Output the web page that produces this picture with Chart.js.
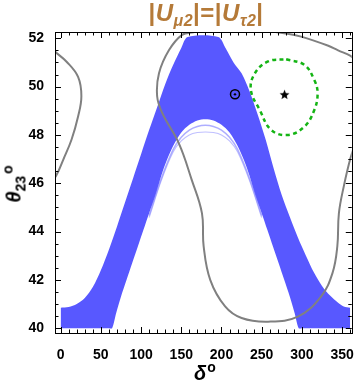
<!DOCTYPE html>
<html>
<head>
<meta charset="utf-8">
<script src="https://cdn.jsdelivr.net/npm/chart.js@4.4.1/dist/chart.umd.min.js"></script>
<style>
  body { margin: 0; background: #fff; }
  #wrap { position: relative; width: 360px; height: 382px; }
  #plot { position: absolute; left: 0; top: 0; }
  .lbl { position: absolute; font-family: "Liberation Sans", Arial, sans-serif; font-weight: bold; white-space: nowrap; }
  #title { left: 206px; top: -1px; transform: translateX(-50%); font-size: 24px; letter-spacing: 0.5px; color: #b57a38; }
  #title sub { font-size: 16px; vertical-align: -5px; font-style: italic; }
  #ylab { left: 14px; top: 184px; transform: translate(-50%, -50%) rotate(-90deg); font-size: 20px; }
  #ylab sub { font-size: 14px; vertical-align: -5px; }
  #ylab sup { font-size: 14px; font-style: normal; vertical-align: 8px; margin-left: 2px; }
  #xlab { left: 205px; top: 372px; transform: translate(-50%, -50%); font-size: 20px; }
  #xlab sup { font-size: 14px; font-style: normal; vertical-align: 8px; margin-left: 1px; }
</style>
</head>
<body>
<div id="wrap">
  <canvas id="plot" width="360" height="382"></canvas>
  <div class="lbl" id="title">|<i>U</i><sub>μ2</sub>|=|<i>U</i><sub>τ2</sub>|</div>
  <div class="lbl" id="ylab"><i>θ</i><sub>23</sub><sup>o</sup></div>
  <div class="lbl" id="xlab"><i>δ</i><sup>o</sup></div>
</div>
<script>
// axis ticks
const xTicks = [0, 50, 100, 150, 200, 250, 300, 350];
const yTicks = [40, 42, 44, 46, 48, 50, 52];

// allowed band (blue): upper edge
const outerDelta = [0, 10, 20, 30, 40, 50, 60, 70, 80, 90, 100, 110, 120, 130, 140, 150, 158, 196, 205, 215, 225, 235, 245, 255, 265, 275, 285, 295, 305, 315, 325, 335, 345, 352, 360];
const outerTheta = [40.85, 40.88, 41.0, 41.25, 41.7, 42.4, 43.25, 44.2, 45.2, 46.2, 47.2, 48.2, 49.15, 50.1, 50.9, 51.6, 52.05, 52.05, 51.6, 51.0, 50.55, 49.8, 48.85, 47.8, 46.6, 45.5, 44.6, 43.75, 43.0, 42.3, 41.75, 41.35, 41.05, 40.9, 40.85];

// allowed band: lower edge
const innerDelta = [0, 30, 60, 64, 69, 75, 82, 89, 96, 103, 110, 118, 125, 132, 140, 150, 160, 170, 180, 190, 200, 210, 220, 228, 235, 242, 250, 257, 264, 271, 278, 285, 291, 296, 300, 330, 360];
const innerTheta = [40, 40, 40, 40, 40.62, 41.3, 42.0, 42.7, 43.38, 44.07, 44.76, 45.5, 46.3, 46.95, 47.55, 48.1, 48.42, 48.6, 48.65, 48.6, 48.42, 48.1, 47.55, 46.95, 46.3, 45.5, 44.76, 44.07, 43.38, 42.7, 42.0, 41.3, 40.62, 40, 40, 40, 40];

// faint edge lines under the band
const faintDelta = [110, 125, 140, 150, 160, 170, 180, 190, 200, 210, 220, 235, 250];
const faintThetaA = [44.66, 46.18, 47.4, 47.9, 48.2, 48.35, 48.4, 48.35, 48.2, 47.9, 47.4, 46.18, 44.66];
const faintThetaB = [44.58, 46.1, 47.3, 47.75, 48.0, 48.1, 48.12, 48.1, 48.0, 47.75, 47.3, 46.1, 44.58];

// grey contour, main piece
const greyDelta = [366, 360.5, 345, 332, 299, 280, 254, 220, 190, 165, 151, 134.6, 122.3, 120, 126.4, 147, 163, 175.7, 177.8, 186, 204.5, 225, 258, 295, 323.5, 338, 344, 346, 352, 360.5, 368];
const greyTheta = [51.1, 51.27, 51.5, 51.7, 52.07, 52.2, 52.3, 52.36, 52.36, 52.25, 52.14, 51.5, 50.55, 49.6, 48.9, 47.65, 46.14, 44.76, 43.4, 42.0, 40.9, 40.42, 40.27, 40.48, 41.3, 42.28, 43.38, 44.76, 45.86, 47.05, 47.8];

// grey contour, left piece
const greyLeftDelta = [-14, -5, 3.2, 13.5, 21.7, 25.8, 21.7, 7.4, -7, -14];
const greyLeftTheta = [45.9, 46.35, 46.97, 47.8, 48.76, 49.6, 50.4, 51.03, 51.45, 51.7];

// green dashed region
const greenDelta = [280.4, 303, 315.4, 319.5, 315.4, 303, 282.5, 262, 247.6, 236.5, 241.5, 257.8, 280.4];
const greenTheta = [51.13, 50.9, 50.27, 49.72, 49.03, 48.34, 48.0, 48.2, 49.03, 49.86, 50.55, 51.04, 51.13];

// markers
const bestFit = [{ x: 216.8, y: 49.68 }];
const starPoint = [{ x: 278.4, y: 49.68 }];

const pts = (xs, ys) => xs.map((x, i) => ({ x: x, y: ys[i] }));

// small filled five-point star used as point style
const starImg = document.createElement("canvas");
starImg.width = 11;
starImg.height = 11;
(() => {
  const c = starImg.getContext("2d");
  c.fillStyle = "#000";
  c.beginPath();
  for (let i = 0; i < 10; i++) {
    const r = i % 2 === 0 ? 5.2 : 2.3;
    const ang = -Math.PI / 2 + (i * Math.PI) / 5;
    const px = 5.5 + r * Math.cos(ang);
    const py = 6 + r * Math.sin(ang);
    if (i === 0) c.moveTo(px, py); else c.lineTo(px, py);
  }
  c.closePath();
  c.fill();
})();

const frameTicks = {
  id: "frameTicks",
  afterDatasetsDraw(chart) {
    const { ctx, chartArea: a, scales } = chart;
    const x = scales.x;
    const y = scales.y;
    ctx.save();
    ctx.strokeStyle = "#000";
    ctx.lineWidth = 1;
    ctx.beginPath();
    for (let v = 0; v <= 360; v += 10) {
      const px = Math.round(x.getPixelForValue(v)) + 0.5;
      const len = v % 50 === 0 ? 6 : 3.5;
      ctx.moveTo(px, a.bottom);
      ctx.lineTo(px, a.bottom - len);
      ctx.moveTo(px, a.top);
      ctx.lineTo(px, a.top + len);
    }
    for (let v = 40; v <= 52; v += 0.5) {
      const py = Math.round(y.getPixelForValue(v)) + 0.5;
      const len = v % 2 === 0 ? 6 : 3.5;
      ctx.moveTo(a.left, py);
      ctx.lineTo(a.left + len, py);
      ctx.moveTo(a.right, py);
      ctx.lineTo(a.right - len, py);
    }
    ctx.stroke();
    ctx.strokeRect(Math.round(a.left) + 0.5, Math.round(a.top) + 0.5, Math.round(a.right - a.left), Math.round(a.bottom - a.top));
    ctx.restore();
  },
};

const tickFont = { family: "'Liberation Sans', Arial, sans-serif", size: 14, weight: "bold" };

new Chart(document.getElementById("plot"), {
  type: "line",
  data: {
    datasets: [
      {
        data: pts(outerDelta, outerTheta),
        borderWidth: 0,
        pointRadius: 0,
        tension: 0.3,
        backgroundColor: "rgb(88,88,255)",
        fill: "+1",
        order: 10,
      },
      {
        data: pts(innerDelta, innerTheta),
        borderWidth: 0,
        pointRadius: 0,
        tension: 0.3,
        fill: false,
        order: 9,
      },
      {
        data: pts(faintDelta, faintThetaA),
        borderColor: "rgba(120,120,255,0.6)",
        borderWidth: 1.5,
        pointRadius: 0,
        tension: 0.3,
        fill: false,
        order: 8,
      },
      {
        data: pts(faintDelta, faintThetaB),
        borderColor: "rgba(140,140,255,0.55)",
        borderWidth: 1.2,
        pointRadius: 0,
        tension: 0.3,
        fill: false,
        order: 7,
      },
      {
        data: pts(greyDelta, greyTheta),
        borderColor: "rgb(128,128,128)",
        borderWidth: 2,
        pointRadius: 0,
        tension: 0.4,
        fill: false,
        order: 5,
      },
      {
        data: pts(greyLeftDelta, greyLeftTheta),
        borderColor: "rgb(128,128,128)",
        borderWidth: 2,
        pointRadius: 0,
        tension: 0.4,
        fill: false,
        order: 5,
      },
      {
        data: pts(greenDelta, greenTheta),
        borderColor: "rgb(20,180,20)",
        borderWidth: 2.5,
        borderDash: [4, 3.5],
        pointRadius: 0,
        tension: 0.4,
        fill: false,
        order: 3,
      },
      {
        data: bestFit,
        showLine: false,
        pointStyle: "circle",
        pointRadius: 4.5,
        pointBorderWidth: 1.5,
        pointBorderColor: "#000",
        pointBackgroundColor: "rgba(0,0,0,0)",
        order: 1,
      },
      {
        data: bestFit,
        showLine: false,
        pointStyle: "circle",
        pointRadius: 1.2,
        pointBorderWidth: 0,
        pointBackgroundColor: "#000",
        order: 0,
      },
      {
        data: starPoint,
        showLine: false,
        pointStyle: starImg,
        pointRadius: 5,
        order: 0,
      },
    ],
  },
  options: {
    responsive: false,
    animation: false,
    layout: { padding: { top: 32, right: 6, left: 0, bottom: 0 } },
    plugins: {
      legend: { display: false },
      tooltip: { enabled: false },
      title: { display: false },
    },
    scales: {
      x: {
        type: "linear",
        min: -7,
        max: 362,
        grid: { display: false },
        border: { display: false },
        afterBuildTicks: (s) => { s.ticks = xTicks.map((v) => ({ value: v })); },
        afterFit: (s) => { s.height = 49; },
        ticks: { font: tickFont, color: "#000", padding: 6, maxRotation: 0, autoSkip: false },
      },
      y: {
        type: "linear",
        min: 39.8,
        max: 52.26,
        grid: { display: false },
        border: { display: false },
        afterBuildTicks: (s) => { s.ticks = yTicks.map((v) => ({ value: v })); },
        afterFit: (s) => { s.width = 55; },
        ticks: { font: tickFont, color: "#000", padding: 3, autoSkip: false },
      },
    },
  },
  plugins: [frameTicks],
});
</script>
</body>
</html>
